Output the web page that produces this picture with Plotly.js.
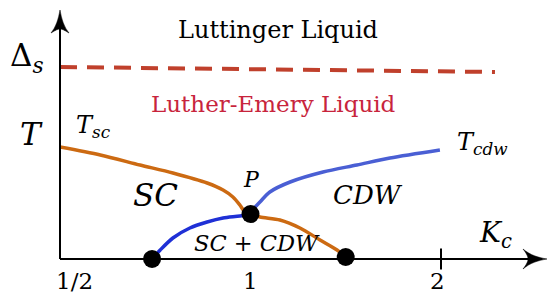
<!DOCTYPE html>
<html>
<head>
<meta charset="utf-8">
<script src="https://cdn.plot.ly/plotly-3.0.1.min.js"></script>
<style>html,body{margin:0;padding:0;background:#fff;}#chart{width:548px;height:293px;}</style>
</head>
<body>
<div id="chart"></div>
<script>
// ---- data (K_c on a log scale, temperature in arbitrary units) ----
var scK   = [0.5, 0.579, 0.669, 0.754, 0.854, 0.905, 0.938, 0.962, 0.980, 1.0];
var scT   = [1.12, 1.04, 0.94, 0.86, 0.76, 0.69, 0.62, 0.54, 0.47, 0.45];
var scLowK = [1.0, 1.035, 1.113, 1.197, 1.288, 1.370, 1.414];
var scLowT = [0.45, 0.42, 0.39, 0.31, 0.19, 0.09, 0.02];
var cdwLowK = [0.699, 0.72, 0.754, 0.802, 0.854, 0.905, 0.962, 1.0];
var cdwLowT = [0.0, 0.09, 0.21, 0.31, 0.37, 0.41, 0.43, 0.45];
var cdwK  = [1.0, 1.035, 1.073, 1.155, 1.302, 1.473, 1.661, 1.992];
var cdwT  = [0.47, 0.57, 0.67, 0.77, 0.87, 0.94, 1.01, 1.09];
var gapK  = [0.5, 2.434];
var gapT  = [1.92, 1.87];
var dotK  = [0.699, 1.0, 1.414];
var dotT  = [0.0, 0.45, 0.02];
var tickVals = [0.5, 1, 2];
var tickText = ['1/2', '1', '2'];
var majorTickK = [2];
var majorTickT = [0];

// ---- geometry helpers (pixel -> paper) ----
var L = 60, T0 = 10, W = 488, H = 249;
function px(x){ return (x - L) / W; }
function py(y){ return (T0 + H - y) / H; }
function pt(x, y){ return px(x).toFixed(5) + ',' + py(y).toFixed(5); }

var FONT = 'DejaVu Serif, Liberation Serif, DejaVu Sans';
var orange = '#cc6a12', blueDark = '#1f30d6', blueLight = '#4a5fd4';
var dashRed = '#c0402c', textRed = '#c8243c';

var traces = [
  {x: gapK, y: gapT, mode: 'lines', line: {color: dashRed, width: 4, dash: '17px,10px'}, hoverinfo: 'skip'},
  {x: scK, y: scT, mode: 'lines', line: {color: orange, width: 3.5, shape: 'spline', smoothing: 0.8}, hoverinfo: 'skip'},
  {x: scLowK, y: scLowT, mode: 'lines', line: {color: orange, width: 3.5, shape: 'spline', smoothing: 0.8}, hoverinfo: 'skip'},
  {x: cdwLowK, y: cdwLowT, mode: 'lines', line: {color: blueDark, width: 3.5, shape: 'spline', smoothing: 0.8}, hoverinfo: 'skip'},
  {x: cdwK, y: cdwT, mode: 'lines', line: {color: blueLight, width: 3.5, shape: 'spline', smoothing: 0.8}, hoverinfo: 'skip'},
  {x: majorTickK, y: majorTickT, mode: 'markers', marker: {symbol: 'line-ns', size: 15, line: {color: 'black', width: 2}}, cliponaxis: false, hoverinfo: 'skip'},
  {x: dotK, y: dotT, mode: 'markers', marker: {color: 'black', size: 18}, cliponaxis: false, hoverinfo: 'skip'}
];

function ann(x, y, text, size, opts){
  var a = {xref: 'paper', yref: 'paper', x: px(x), y: py(y), text: text, showarrow: false,
           xanchor: 'center', yanchor: 'middle', font: {size: size, color: 'black', family: FONT}};
  if (opts) { for (var k in opts) { if (k === 'color') a.font.color = opts[k]; else a[k] = opts[k]; } }
  return a;
}

var annotations = [
  ann(278, 30, 'Luttinger Liquid', 24),
  ann(273.5, 104.5, 'Luther-Emery Liquid', 23, {color: textRed}),
  ann(8, 58, 'Δ<sub><i>s</i></sub>', 31, {xanchor: 'left'}),
  ann(31, 134, '<i>T</i>', 31),
  ann(74, 126, '<i>T</i><sub><i>sc</i></sub>', 24, {xanchor: 'left'}),
  ann(455, 143, '<i>T</i><sub><i>cdw</i></sub>', 24, {xanchor: 'left'}),
  ann(155, 195, '<i>SC</i>', 31),
  ann(251, 179.5, '<i>P</i>', 22),
  ann(367.5, 195.5, '<i>CDW</i>', 26),
  ann(256.5, 242.5, '<i>SC</i> + <i>CDW</i>', 22.5),
  ann(477, 234, '<i>K</i><sub><i>c</i></sub>', 28, {xanchor: 'left'})
];
// tick labels through the x axis (log axis -> log10 positions)
for (var i = 0; i < tickVals.length; i++) {
  annotations.push({xref: 'x', yref: 'paper', x: Math.log10(tickVals[i]), y: py(281), text: tickText[i],
    showarrow: false, xanchor: 'center', yanchor: 'middle', xshift: (i === 0 ? 14 : (i === 2 ? -4 : 0)),
    font: {size: 23, color: 'black', family: FONT}});
}

var shapes = [
  {type: 'line', xref: 'paper', yref: 'paper', x0: 0, y0: 0, x1: px(530), y1: 0, line: {color: 'black', width: 2}},
  {type: 'line', xref: 'paper', yref: 'paper', x0: 0, y0: 0, x1: 0, y1: py(25), line: {color: 'black', width: 2}},
  {type: 'path', xref: 'paper', yref: 'paper', fillcolor: 'black', line: {color: 'black', width: 0.5},
   path: 'M' + pt(547, 259) + ' C' + pt(538, 260.5) + ' ' + pt(530, 263) + ' ' + pt(523, 269) +
         ' C' + pt(527, 264) + ' ' + pt(528, 261) + ' ' + pt(528, 259) +
         ' C' + pt(528, 257) + ' ' + pt(527, 254) + ' ' + pt(523, 249) +
         ' C' + pt(530, 255) + ' ' + pt(538, 257.5) + ' ' + pt(547, 259) + ' Z'},
  {type: 'path', xref: 'paper', yref: 'paper', fillcolor: 'black', line: {color: 'black', width: 0.5},
   path: 'M' + pt(60, 10) + ' C' + pt(61.5, 19) + ' ' + pt(64, 27) + ' ' + pt(69, 33) +
         ' C' + pt(64, 30) + ' ' + pt(62, 29) + ' ' + pt(60, 29) +
         ' C' + pt(58, 29) + ' ' + pt(56, 30) + ' ' + pt(51, 33) +
         ' C' + pt(56, 27) + ' ' + pt(58.5, 19) + ' ' + pt(60, 10) + ' Z'}
];

var layout = {
  width: 548, height: 293,
  margin: {l: L, r: 0, t: T0, b: 293 - T0 - H},
  paper_bgcolor: 'white', plot_bgcolor: 'white',
  showlegend: false,
  font: {family: FONT, color: 'black'},
  xaxis: {type: 'log', range: [Math.log10(0.5), Math.log10(2.952)], showgrid: false, zeroline: false,
          showline: false, showticklabels: false, ticks: '', fixedrange: true},
  yaxis: {range: [0, 2.49], showgrid: false, zeroline: false, showline: false, showticklabels: false,
          ticks: '', fixedrange: true},
  annotations: annotations,
  shapes: shapes
};

Plotly.newPlot('chart', traces, layout, {displayModeBar: false, staticPlot: true});
</script>
</body>
</html>
